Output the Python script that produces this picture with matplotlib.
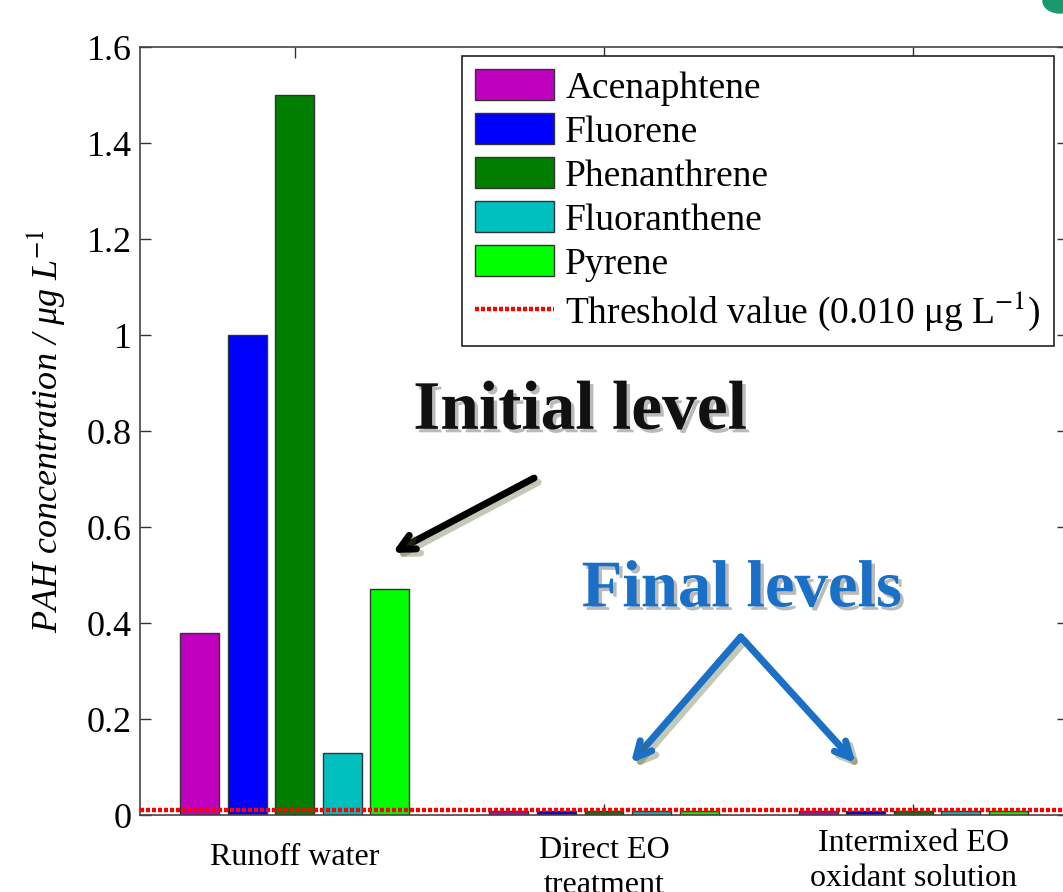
import matplotlib
matplotlib.use("Agg")
import matplotlib.pyplot as plt
import matplotlib.patheffects as pe
from matplotlib.patches import Ellipse
import matplotlib.transforms as mtransforms
import numpy as np

plt.rcParams['font.family'] = ['Liberation Serif', 'DejaVu Serif']
plt.rcParams['mathtext.fontset'] = 'stix'

categories = ["Runoff water", "Direct EO\ntreatment", "Intermixed EO\noxidant solution"]
compounds = ["Acenaphtene", "Fluorene", "Phenanthrene", "Fluoranthene", "Pyrene"]
acenaphtene = [0.38, 0.009, 0.009]
fluorene = [1.00, 0.009, 0.009]
phenanthrene = [1.50, 0.009, 0.009]
fluoranthene = [0.13, 0.009, 0.009]
pyrene = [0.47, 0.009, 0.009]
threshold = 0.010
yticks = [0, 0.2, 0.4, 0.6, 0.8, 1.0, 1.2, 1.4, 1.6]

series = [acenaphtene, fluorene, phenanthrene, fluoranthene, pyrene]
colors = ['#BF00BF', '#0000FF', '#007F00', '#00BFBF', '#00FF00']

W, H = 1063, 892
fig = plt.figure(figsize=(W / 100, H / 100), dpi=100)
ax = fig.add_axes([140 / W, 1 - 815 / H, 928 / W, 768 / H])

x = np.arange(1, len(categories) + 1)
pitch = 0.154
bw = 0.126
handles = []
for i, (vals, c, name) in enumerate(zip(series, colors, compounds)):
    b = ax.bar(x + (i - 2) * pitch, vals, width=bw, color=c, edgecolor='#333333',
               linewidth=1.0, label=name, zorder=2)
    handles.append(b)

tl = ax.axhline(threshold, color='#FF0000', linewidth=3.2, dashes=(0.9, 0.45),
                zorder=3, label='Threshold value (0.010 μg L$^{-1}$)')
handles.append(tl)

ax.set_xlim(0.5, 3.5)
ax.set_ylim(0, 1.6)
ax.set_xticks(x)
ax.set_xticklabels(categories, fontsize=23, linespacing=1.3)
ax.set_yticks(yticks)
ax.set_yticklabels([f'{v:g}' for v in yticks], fontsize=26)
ax.tick_params(direction='in', length=8, width=1, top=True, right=True,
               color='#333333', pad=6)
ax.tick_params(axis='x', pad=20)
for s in ax.spines.values():
    s.set_color('#444444')
    s.set_linewidth(1.2)

# individual vertical offsets of category labels
offsets = [0, 7, 14]
for lab, dy in zip(ax.get_xticklabels(), offsets):
    lab.set_transform(lab.get_transform() +
                      mtransforms.ScaledTranslation(0, dy / 100, fig.dpi_scale_trans))

ax.set_ylabel('PAH concentration / μg L$^{\\mathit{-1}}$', fontsize=26,
              style='italic')
ax.yaxis.set_label_coords(-0.079, 0.5)

leg = ax.legend(handles=handles, loc='upper right', bbox_to_anchor=(1054 / W, 1 - 56 / H),
                bbox_transform=fig.transFigure, fontsize=27, frameon=True,
                fancybox=False, framealpha=1, edgecolor='#222222',
                handlelength=2.1, handleheight=0.9, labelspacing=0.2,
                handletextpad=0.3, borderpad=0.35, borderaxespad=0)
leg.get_frame().set_linewidth(1.2)

# annotations
shadow_txt = [pe.withSimplePatchShadow(offset=(2.5, -2.5), shadow_rgbFace='#666666', alpha=0.45)]
ax.text(1.923, 0.84, 'Initial level', fontsize=50, fontweight='bold', color='#111111',
        ha='center', va='center', path_effects=shadow_txt, zorder=5)
ax.text(2.445, 0.469, 'Final levels', fontsize=48, fontweight='bold', color='#1A6FC6',
        ha='center', va='center', path_effects=shadow_txt, zorder=5)

shadow_line = [pe.SimpleLineShadow(offset=(3, -3), shadow_color='#556633', alpha=0.35),
               pe.Normal()]
astyle = '->,head_length=1.1,head_width=0.55'
ax.annotate('', xy=(1.316, 0.546), xytext=(1.774, 0.702),
            arrowprops=dict(arrowstyle=astyle, color='black', lw=5, shrinkA=0, shrinkB=0,
                            path_effects=shadow_line), zorder=5)
for end in [(2.087, 0.108), (2.813, 0.108)]:
    ax.annotate('', xy=end, xytext=(2.442, 0.371),
                arrowprops=dict(arrowstyle=astyle, color='#1A6FC6', lw=5, shrinkA=0, shrinkB=0,
                                path_effects=shadow_line), zorder=5)

# slide decoration in top-right corner
fig.patches.append(Ellipse((1060 / W, 1 - 1 / H), 34 / W, 24 / H,
                           transform=fig.transFigure, color='#1A9A6C', zorder=0))

fig.savefig('out.png', dpi=100)
